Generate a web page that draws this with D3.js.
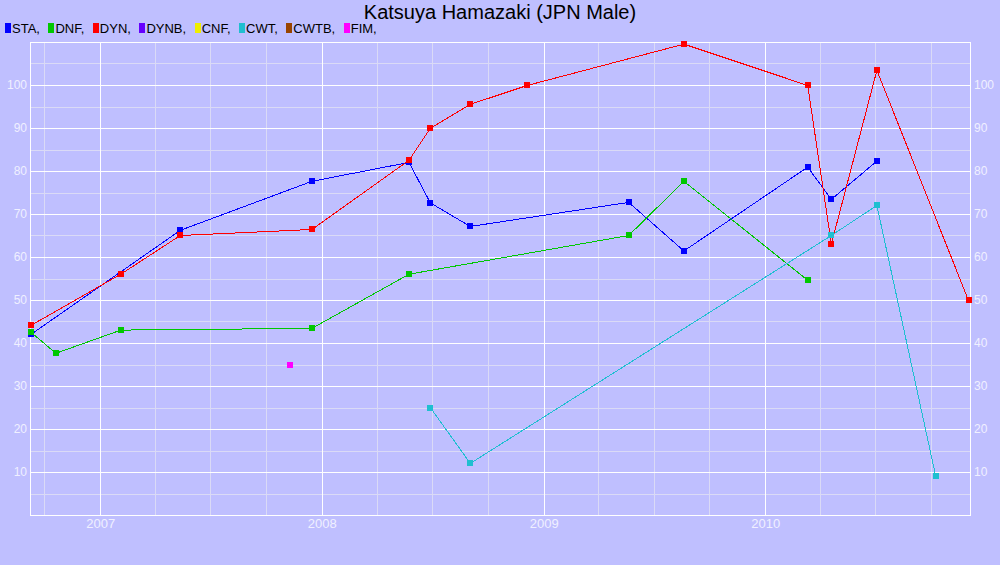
<!DOCTYPE html>
<html>
<head>
<meta charset="utf-8">
<script src="https://cdn.jsdelivr.net/npm/d3@7"></script>
<style>
  html, body { margin: 0; padding: 0; background: #bfbfff; }
  svg { display: block; font-family: "Liberation Sans", Arial, sans-serif; }
</style>
</head>
<body>
<svg id="chart" width="1000" height="565"></svg>
<script>
// ---- data ----
const seriesNames = ["STA", "DNF", "DYN", "DYNB", "CNF", "CWT", "CWTB", "FIM"];
const seriesColors = ["#0000ff", "#00c800", "#ff0000", "#6600ff", "#eeee00", "#1fbfd0", "#994400", "#ff00ff"];

const staDates = ["2006-09-09","2007-05-13","2007-12-16","2008-05-24","2008-06-28","2008-09-02","2009-05-21","2009-08-20","2010-03-12","2010-04-20","2010-07-04"];
const staValues = [42, 66.2, 77.6, 82, 72.6, 67.1, 72.7, 61.4, 80.9, 73.4, 82.3];

const dnfDates = ["2006-09-09","2006-10-20","2007-02-04","2007-12-16","2008-05-24","2009-05-21","2009-08-20","2010-03-12"];
const dnfValues = [42.5, 37.6, 43, 43.4, 56, 65, 77.6, 54.6];

const dynDates = ["2006-09-09","2007-02-04","2007-05-13","2007-12-16","2008-05-24","2008-06-28","2008-09-02","2008-12-05","2009-08-20","2010-03-12","2010-04-20","2010-07-04","2010-12-02"];
const dynValues = [44.1, 56, 65, 66.4, 82.5, 89.9, 95.5, 99.9, 109.5, 99.9, 63, 103.4, 49.9];

const cwtDates = ["2008-06-28","2008-09-02","2010-04-20","2010-07-04","2010-10-09"];
const cwtValues = [25, 12, 65, 72, 9];

const fimDates = ["2007-11-10"];
const fimValues = [35];

const yTickValues = [10, 20, 30, 40, 50, 60, 70, 80, 90, 100];
const yMax = 110;
const chartTitle = "Katsuya Hamazaki (JPN Male)";

// ---- build ----
const parse = d3.utcParse("%Y-%m-%d");
function mk(dates, values) { return dates.map((d, i) => ({ date: parse(d), value: values[i] })); }
const seriesData = [
  { name: "STA", points: mk(staDates, staValues) },
  { name: "DNF", points: mk(dnfDates, dnfValues) },
  { name: "DYN", points: mk(dynDates, dynValues) },
  { name: "CWT", points: mk(cwtDates, cwtValues) },
  { name: "FIM", points: mk(fimDates, fimValues) }
];
const colorOf = d3.scaleOrdinal().domain(seriesNames).range(seriesColors);

const svg = d3.select("#chart");
const W = 1000, H = 565;
const plot = { left: 30, right: 970, top: 42, bottom: 515 };

svg.append("rect").attr("width", W).attr("height", H).attr("fill", "#bfbfff");

const allDates = seriesData.flatMap(s => s.points.map(p => p.date));
const x = d3.scaleUtc().domain(d3.extent(allDates)).range([31, 968.5]);
const y = d3.scaleLinear().domain([0, yMax]).range([plot.bottom, plot.top]);

const grid = svg.append("g").attr("shape-rendering", "crispEdges");

// horizontal minor / major grid
const yMinor = d3.range(5, yMax, 10);
const yMajor = d3.range(10, yMax + 1, 10);
grid.selectAll(".hmin").data(yMinor).join("line")
  .attr("x1", plot.left).attr("x2", plot.right)
  .attr("y1", d => Math.round(y(d)) + 0.5).attr("y2", d => Math.round(y(d)) + 0.5)
  .attr("stroke", "#dadaf6").attr("stroke-width", 1);

// vertical minor (quarters) grid
const [d0, d1] = x.domain();
const quarters = d3.utcMonth.every(3).range(d0, d1).filter(d => d.getUTCMonth() !== 0);
const years = d3.utcYear.range(d0, d1);
grid.selectAll(".vmin").data(quarters).join("line")
  .attr("x1", d => Math.round(x(d)) + 0.5).attr("x2", d => Math.round(x(d)) + 0.5)
  .attr("y1", plot.top).attr("y2", plot.bottom)
  .attr("stroke", "#dadaf6").attr("stroke-width", 1);

grid.selectAll(".hmaj").data(yMajor).join("line")
  .attr("x1", plot.left).attr("x2", plot.right)
  .attr("y1", d => Math.round(y(d)) + 0.5).attr("y2", d => Math.round(y(d)) + 0.5)
  .attr("stroke", "#ffffff").attr("stroke-width", 1);
grid.selectAll(".vmaj").data(years).join("line")
  .attr("x1", d => Math.round(x(d)) + 0.5).attr("x2", d => Math.round(x(d)) + 0.5)
  .attr("y1", plot.top).attr("y2", plot.bottom)
  .attr("stroke", "#ffffff").attr("stroke-width", 1);

// border (left, right, bottom)
grid.append("line").attr("x1", plot.left + 0.5).attr("x2", plot.left + 0.5).attr("y1", plot.top).attr("y2", plot.bottom + 1).attr("stroke", "#fff");
grid.append("line").attr("x1", plot.right + 0.5).attr("x2", plot.right + 0.5).attr("y1", plot.top).attr("y2", plot.bottom + 1).attr("stroke", "#fff");
grid.append("line").attr("x1", plot.left).attr("x2", plot.right + 1).attr("y1", plot.bottom + 0.5).attr("y2", plot.bottom + 0.5).attr("stroke", "#fff");

// axes (labels only)
const labelColor = "#f0f0ff";
const yAxisL = d3.axisLeft(y).tickValues(yTickValues).tickSize(0).tickPadding(3).tickFormat(d3.format("d"));
const gL = svg.append("g").attr("transform", `translate(${plot.left - 0},0)`).call(yAxisL);
const yAxisR = d3.axisRight(y).tickValues(yTickValues).tickSize(0).tickPadding(3).tickFormat(d3.format("d"));
const gR = svg.append("g").attr("transform", `translate(${plot.right + 1},0)`).call(yAxisR);
const xAxis = d3.axisBottom(x).tickValues(years).tickSize(0).tickPadding(3).tickFormat(d3.utcFormat("%Y"));
const gX = svg.append("g").attr("transform", `translate(0,${plot.bottom + 1})`).call(xAxis);
[gL, gR, gX].forEach(g => {
  g.select(".domain").remove();
  g.selectAll("text").attr("fill", labelColor).attr("font-family", "Liberation Sans, Arial, sans-serif");
});
gL.selectAll("text").attr("font-size", 12);
gR.selectAll("text").attr("font-size", 12);
gX.selectAll("text").attr("font-size", 13);

// series
const line = d3.line().x(d => x(d.date)).y(d => y(d.value));
const plotG = svg.append("g");
seriesData.forEach(s => {
  const c = colorOf(s.name);
  if (s.points.length > 1) {
    plotG.append("path").datum(s.points)
      .attr("d", line).attr("fill", "none").attr("stroke", c).attr("stroke-width", 1)
      .attr("shape-rendering", "optimizeSpeed");
  }
  plotG.selectAll(null).data(s.points).join("rect")
    .attr("x", d => Math.round(x(d.date)) - 3).attr("y", d => Math.round(y(d.value)) - 3)
    .attr("width", 6).attr("height", 6).attr("fill", c)
    .attr("shape-rendering", "crispEdges");
});

// title
svg.append("text").attr("x", 500).attr("y", 19).attr("text-anchor", "middle")
  .attr("font-size", 20).attr("fill", "#000").text(chartTitle);

// legend
const legend = svg.append("g");
let lx = 5;
seriesNames.forEach(n => {
  legend.append("rect").attr("x", lx).attr("y", 23).attr("width", 6).attr("height", 10)
    .attr("fill", colorOf(n)).attr("shape-rendering", "crispEdges");
  const t = legend.append("text").attr("x", lx + 7).attr("y", 33).attr("font-size", 13)
    .attr("fill", "#000").text(n + ",");
  lx = lx + 7 + t.node().getComputedTextLength() + 8.5;
});
</script>
</body>
</html>
